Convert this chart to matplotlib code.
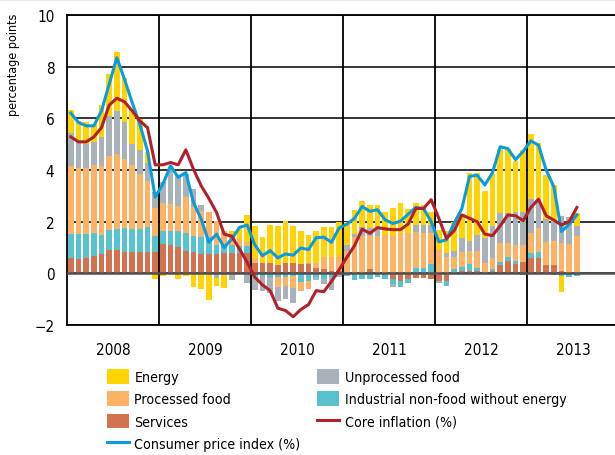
import matplotlib.pyplot as plt
import numpy as np
from matplotlib.patches import Rectangle
from matplotlib.legend_handler import HandlerPatch
from matplotlib.lines import Line2D

plt.rcParams['font.family'] = ['DejaVu Sans']
plt.rcParams['font.stretch'] = 'condensed'
plt.rcParams['axes.unicode_minus'] = True

years = ['2008', '2009', '2010', '2011', '2012', '2013']

# contributions in percentage points, monthly Jan 2008 - Jul 2013
services = [0.59, 0.57, 0.60, 0.68, 0.73, 0.89, 0.89, 0.84, 0.84, 0.81, 0.84, 0.84,
            1.13, 1.11, 1.03, 0.88, 0.81, 0.75, 0.75, 0.75, 0.79, 0.79, 0.79, 0.79,
            0.40, 0.40, 0.40, 0.32, 0.40, 0.40, 0.36, 0.36, 0.19, 0.17, 0.10, 0.10,
            0.00, 0.00, 0.00, 0.17, 0.00, 0.00, -0.22, -0.28, -0.20, -0.19, -0.19, -0.22,
            -0.28, -0.30, 0.00, 0.08, 0.10, 0.08, 0.03, 0.08, 0.34, 0.49, 0.36, 0.43,
            0.58, 0.59, 0.34, 0.34, 0.10, 0.00, 0.00]
industrial = [0.94, 0.94, 0.93, 0.90, 0.74, 0.79, 0.84, 0.90, 0.87, 0.90, 0.94, 0.62,
              0.49, 0.51, 0.59, 0.70, 0.65, 0.67, 0.67, 0.35, 0.31, 0.30, 0.28, 0.28,
              -0.10, -0.10, -0.13, -0.13, -0.13, -0.10, -0.32, -0.28, -0.15, -0.22, -0.15, 0.00,
              -0.10, -0.25, -0.20, -0.22, -0.15, -0.22, -0.20, -0.26, -0.18, 0.19, 0.19, 0.36,
              0.00, -0.20, 0.17, 0.15, 0.26, 0.12, 0.03, 0.10, 0.10, 0.13, 0.13, -0.05,
              0.20, 0.23, 0.00, -0.06, -0.09, -0.13, -0.09]
processed = [2.61, 2.57, 2.54, 2.62, 2.67, 2.88, 2.90, 2.70, 2.50, 2.13, 1.80, 1.05,
             1.12, 1.08, 0.97, 1.36, 1.09, 1.00, 0.94, 0.94, 0.55, 0.45, 0.26, 0.13,
             0.20, 0.00, 0.00, -0.41, -0.37, -0.45, -0.35, -0.33, 0.20, 0.45, 0.52, 0.52,
             0.88, 1.39, 1.45, 1.29, 1.46, 1.48, 1.46, 1.56, 1.58, 1.42, 1.39, 1.22,
             0.95, 0.62, 0.45, 0.58, 0.52, 0.68, 0.35, 0.40, 0.75, 0.55, 0.62, 0.67,
             0.80, 0.93, 0.89, 0.93, 1.07, 1.13, 1.46]
unprocessed = [1.30, 1.00, 0.93, 0.88, 1.12, 1.54, 1.65, 1.42, 0.78, 0.94, 0.71, 0.64,
               0.81, 1.30, 1.21, 0.91, 0.71, 0.22, -0.05, -0.18, -0.05, -0.25, 0.00, -0.39,
               -0.55, -0.60, -0.63, -0.52, -0.50, -0.60, 0.00, 0.05, -0.10, -0.20, -0.50, -0.15,
               0.22, 0.13, 0.33, 0.28, 0.28, 0.02, -0.12, 0.00, 0.00, 0.26, 0.28, 0.29,
               -0.10, 0.17, 0.26, 0.54, 0.39, 0.60, 0.95, 1.25, 1.16, 1.16, 1.25, 1.26,
               1.29, 1.13, 0.88, 0.71, 1.06, 1.07, 0.39]
energy = [0.90, 0.82, 0.85, 0.72, 1.24, 1.60, 2.30, 1.69, 1.39, 1.21, 0.39, -0.22,
          -0.10, 0.15, -0.20, -0.10, -0.54, -0.60, -1.00, -0.32, -0.50, 0.10, 0.47, 1.06,
          1.22, 1.00, 1.47, 1.50, 1.64, 1.42, 1.29, 1.07, 1.26, 1.16, 1.16, 1.38,
          0.87, 0.94, 1.02, 0.90, 0.90, 0.88, 1.05, 1.16, 0.91, 0.85, 0.78, 0.49,
          0.72, 0.86, 1.10, 0.94, 2.62, 2.40, 1.84, 2.00, 2.47, 2.47, 2.00, 2.40,
          2.51, 2.15, 1.70, 1.44, -0.63, 0.00, 0.49]

# annual rates, %
cpi = [6.2, 5.84, 5.71, 5.71, 6.29, 7.32, 8.35, 7.51, 6.61, 5.77, 4.74, 2.95,
       3.45, 4.16, 3.72, 3.9, 2.74, 2.1, 1.2, 1.52, 1.0, 1.33, 1.78, 1.87,
       1.1, 0.68, 0.88, 0.6, 0.75, 0.7, 0.98, 0.92, 1.38, 1.4, 1.2, 1.76,
       1.9, 2.13, 2.59, 2.4, 2.46, 2.07, 1.93, 2.02, 2.29, 2.55, 2.51, 2.0,
       1.22, 1.3, 1.95, 2.5, 3.75, 3.8, 3.42, 3.9, 4.9, 4.83, 4.4, 4.72,
       5.13, 4.96, 4.0, 3.35, 1.62, 1.9, 2.26]
core = [5.28, 5.09, 5.09, 5.28, 5.64, 6.51, 6.78, 6.64, 6.29, 5.9, 5.64, 4.2,
        4.2, 4.29, 4.2, 4.78, 4.03, 3.39, 2.9, 2.36, 1.52, 1.43, 0.94, 0.43,
        -0.15, -0.45, -0.67, -1.35, -1.44, -1.68, -1.4, -1.21, -0.67, -0.71, -0.31, 0.14,
        0.62, 1.07, 1.71, 1.55, 1.77, 1.72, 1.69, 1.69, 1.91, 2.51, 2.51, 2.85,
        2.13, 1.35, 1.65, 2.26, 2.13, 2.0, 1.52, 1.46, 1.84, 2.26, 2.23, 2.04,
        2.55, 2.87, 2.23, 2.06, 1.87, 2.0, 2.55]

comps = [
    (services, '#D17350', 'Services'),
    (industrial, '#58C3CE', 'Industrial non-food without energy'),
    (processed, '#FDB366', 'Processed food'),
    (unprocessed, '#A8B2B8', 'Unprocessed food'),
    (energy, '#FFD400', 'Energy'),
]

fig = plt.figure(figsize=(6.15, 4.56), dpi=100)
ax = fig.add_axes([67 / 615, 1 - 326 / 456, 552 / 615, 310 / 456])

x = np.arange(len(cpi))
pos = np.zeros(len(x))
neg = np.zeros(len(x))
bars = {}
for vals, col, lab in comps:
    v = np.array(vals)
    bottom = np.where(v >= 0, pos, neg)
    bars[lab] = ax.bar(x, v, 0.78, bottom=bottom, color=col, linewidth=0, zorder=2, label=lab)
    pos = pos + np.clip(v, 0, None)
    neg = neg + np.clip(v, None, 0)

ax.axhline(0, color='#505050', lw=1.8, zorder=3)
l_cpi, = ax.plot(x, cpi, color='#0A9CDB', lw=2.2, zorder=4, label='Consumer price index (%)')
l_core, = ax.plot(x, core, color='#B3202A', lw=2.2, zorder=5, label='Core inflation (%)')

ax.set_xlim(-0.5, 71.5)
ax.set_ylim(-2, 10)
ax.set_yticks(range(-2, 11, 2))
ax.set_xticks(np.arange(6) * 12 + 5.5)
ax.set_xticklabels(years)
ax.set_xticks(np.arange(1, 6) * 12 - 0.5, minor=True)
ax.tick_params(axis='both', which='both', length=0, labelsize=11)
ax.tick_params(axis='x', pad=12)
ax.tick_params(axis='y', pad=9)
ax.grid(axis='y', which='major', color='black', lw=1.1, zorder=0)
ax.grid(axis='x', which='minor', color='black', lw=1.3, zorder=0)
ax.set_axisbelow(True)
for s in ['left', 'bottom', 'top']:
    ax.spines[s].set_linewidth(1.3)
ax.spines['right'].set_visible(False)

fig.text(14 / 615, 1 - 14 / 456, 'percentage points', rotation=90, ha='center', va='top', fontsize=9)


def square(legend, orig_handle, xdescent, ydescent, width, height, fontsize):
    return Rectangle((-xdescent + width - height, -ydescent), height, height)


handles = [bars['Energy'], bars['Processed food'], bars['Services'], l_cpi,
           bars['Unprocessed food'], bars['Industrial non-food without energy'], l_core]
labels = ['Energy', 'Processed food', 'Services', 'Consumer price index (%)',
          'Unprocessed food', 'Industrial non-food without energy', 'Core inflation (%)']
fig.legend(handles, labels, ncol=2, loc='upper left', bbox_to_anchor=(107 / 615, 1 - 370 / 456),
           frameon=False, fontsize=10.2, borderpad=0, borderaxespad=0,
           handlelength=1.55, handleheight=1.2, handletextpad=0.38,
           labelspacing=0.52, columnspacing=1.2,
           handler_map={type(bars['Energy'][0]): HandlerPatch(patch_func=square)})

fig.add_artist(Line2D([0, 1], [0.999, 0.999], color='#8c8c8c', lw=1))

fig.savefig('out.png', dpi=100)
